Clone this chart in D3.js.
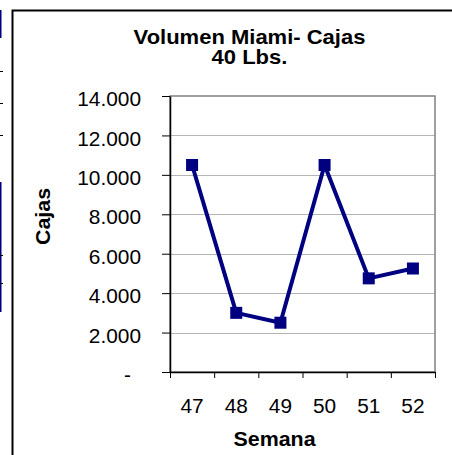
<!DOCTYPE html>
<html>
<head>
<meta charset="utf-8">
<script src="https://cdn.jsdelivr.net/npm/d3@7"></script>
<style>
  body { margin: 0; background: #fff; }
  svg text { font-family: "Liberation Sans", Arial, sans-serif; fill: #000; }
</style>
</head>
<body>
<div id="chart"></div>
<script>
// data
const weeks = ["47", "48", "49", "50", "51", "52"];
const cajas = [10500, 3000, 2500, 10500, 4750, 5250];
const yTicks = [0, 2000, 4000, 6000, 8000, 10000, 12000, 14000];
const titleLines = ["Volumen Miami- Cajas", "40 Lbs."];
const xTitle = "Semana";
const yTitle = "Cajas";

const W = 452, H = 455;
const plot = {left: 170, right: 435, top: 96, bottom: 372};
const sx = 1.07; // text in the picture is a bit wider than normal
const navy = "#000080";

const svg = d3.select("#chart").append("svg")
    .attr("width", W)
    .attr("height", H);

// bits of neighbouring content cut off at the left edge
svg.append("rect").attr("x", 0).attr("y", 10).attr("width", 1.5).attr("height", 28).attr("fill", navy);
svg.append("rect").attr("x", 0).attr("y", 182).attr("width", 1.5).attr("height", 130).attr("fill", navy);
[71, 103, 135, 255, 283].forEach(yy => {
    svg.append("line").attr("x1", 0).attr("x2", 3).attr("y1", yy + 0.5).attr("y2", yy + 0.5)
        .attr("stroke", "#000").attr("stroke-width", 1);
});

// outer frame (runs off to the right and bottom)
svg.append("path")
    .attr("d", `M12.5,${H + 5} L12.5,10.5 L${W + 5},10.5`)
    .attr("fill", "none")
    .attr("stroke", "#000")
    .attr("stroke-width", 2);

const x = d3.scaleBand()
    .domain(weeks)
    .range([plot.left, plot.right])
    .padding(0);

const y = d3.scaleLinear()
    .domain([0, 14000])
    .range([plot.bottom, plot.top]);

// gridlines
svg.append("g")
    .selectAll("line")
    .data(yTicks.filter(d => d > 0 && d < 14000))
    .enter()
    .append("line")
    .attr("x1", plot.left)
    .attr("x2", plot.right)
    .attr("y1", d => Math.round(y(d)) + 0.5)
    .attr("y2", d => Math.round(y(d)) + 0.5)
    .attr("stroke", "#b4b4b4")
    .attr("stroke-width", 1);

// plot border (top / right grey)
svg.append("rect")
    .attr("x", plot.left)
    .attr("y", plot.top)
    .attr("width", plot.right - plot.left)
    .attr("height", plot.bottom - plot.top)
    .attr("fill", "none")
    .attr("stroke", "#808080")
    .attr("stroke-width", 1.5);

// y axis
const fmt = d => d === 0 ? "-" : d3.format(",")(d).replace(/,/g, ".");
const yAxis = svg.append("g")
    .attr("transform", `translate(${plot.left}, 0)`)
    .call(d3.axisLeft(y).tickValues(yTicks).tickSize(8).tickSizeOuter(0).tickFormat(fmt));
yAxis.select(".domain").attr("stroke", "#000").attr("stroke-width", 1.5);
yAxis.selectAll(".tick line").attr("stroke", "#000");
yAxis.selectAll(".tick text")
    .attr("x", null)
    .attr("dy", null)
    .style("font-size", "19.5px")
    .attr("transform", d => `translate(${d === 0 ? -39 : -29}, 9.7) scale(${sx},1)`);

// x axis: ticks on category edges, labels in the middle
const xEdges = d3.scaleLinear().domain([0, weeks.length]).range([plot.left, plot.right]);
const xTickAxis = svg.append("g")
    .attr("transform", `translate(0, ${plot.bottom})`)
    .call(d3.axisBottom(xEdges).ticks(weeks.length).tickSize(6).tickSizeOuter(0).tickFormat(""));
xTickAxis.select(".domain").attr("stroke", "#000").attr("stroke-width", 1.5);
xTickAxis.selectAll(".tick line").attr("stroke", "#000");

const xLabels = svg.append("g")
    .attr("transform", `translate(0, ${plot.bottom})`)
    .call(d3.axisBottom(x).tickSize(0));
xLabels.select(".domain").remove();
xLabels.selectAll(".tick text")
    .attr("y", null)
    .attr("dy", null)
    .style("font-size", "19.5px")
    .attr("transform", `translate(0, 41.3) scale(${sx},1)`);

// line + square markers
const pts = weeks.map((w, i) => [x(w) + x.bandwidth() / 2, y(cajas[i])]);
svg.append("path")
    .datum(pts)
    .attr("d", d3.line())
    .attr("fill", "none")
    .attr("stroke", navy)
    .attr("stroke-width", 4)
    .attr("stroke-linejoin", "round");

svg.selectAll(".marker")
    .data(pts)
    .enter()
    .append("rect")
    .attr("class", "marker")
    .attr("x", d => d[0] - 6)
    .attr("y", d => d[1] - 6)
    .attr("width", 12)
    .attr("height", 12)
    .attr("fill", navy);

// titles
svg.selectAll(".title")
    .data(titleLines)
    .enter()
    .append("text")
    .attr("class", "title")
    .attr("text-anchor", "middle")
    .attr("transform", (d, i) => `translate(249.5, ${44.3 + i * 20}) scale(1.1,1)`)
    .style("font-size", "20px")
    .style("font-weight", "bold")
    .text(d => d);

svg.append("text")
    .attr("text-anchor", "middle")
    .attr("transform", `translate(274.5, 446) scale(${sx},1)`)
    .style("font-size", "20px")
    .style("font-weight", "bold")
    .text(xTitle);

svg.append("text")
    .attr("text-anchor", "middle")
    .attr("transform", `translate(50, 216.5) rotate(-90) scale(${sx},1)`)
    .style("font-size", "20px")
    .style("font-weight", "bold")
    .text(yTitle);
</script>
</body>
</html>
